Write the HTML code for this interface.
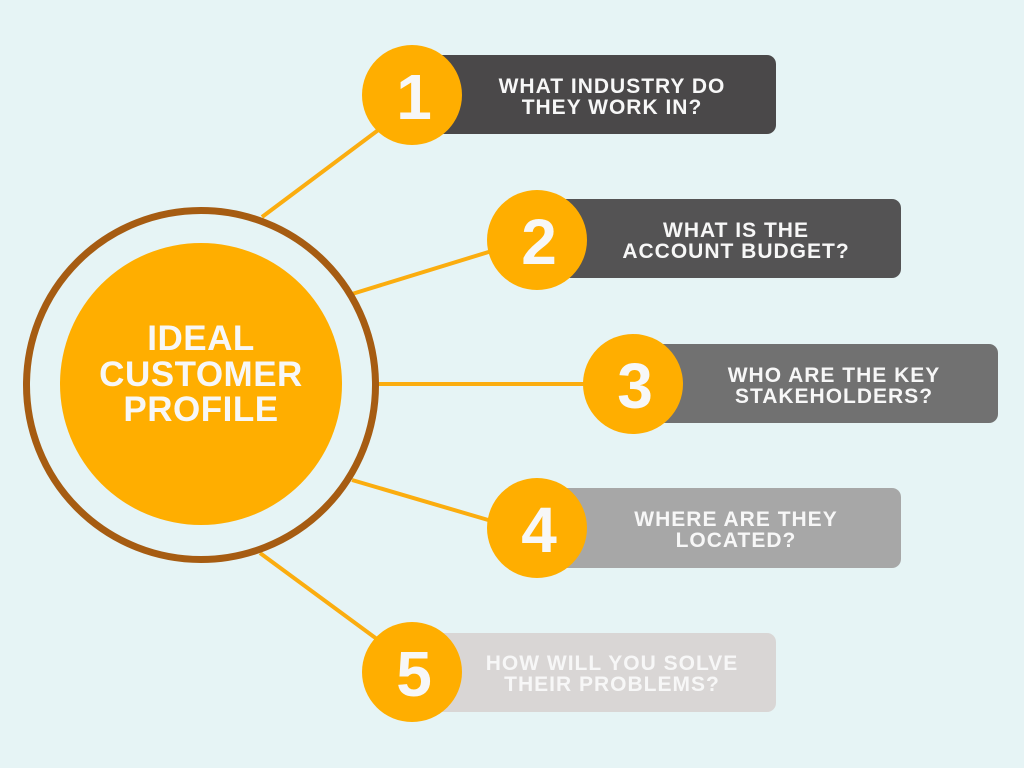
<!DOCTYPE html>
<html><head><meta charset="utf-8"><style>
html,body{margin:0;padding:0;background:#e6f4f5;}
svg{display:block}
text{font-family:"Liberation Sans",sans-serif;font-weight:bold;fill:#f7f7f7;text-anchor:middle}
</style></head><body>
<svg width="1024" height="768" viewBox="0 0 1024 768">
<rect width="1024" height="768" fill="#e6f4f5"/>
<g stroke="#fbad0f" stroke-width="4">
<line x1="262" y1="217" x2="385" y2="125"/>
<line x1="352" y1="294" x2="495" y2="250"/>
<line x1="378" y1="384" x2="590" y2="384"/>
<line x1="352" y1="480" x2="495" y2="522"/>
<line x1="260" y1="553" x2="385" y2="645"/>
</g>
<circle cx="201" cy="385" r="174.5" fill="none" stroke="#a65c12" stroke-width="7"/>
<circle cx="201" cy="384" r="141" fill="#ffae00"/>
<g font-size="35" letter-spacing="0.5">
<text x="201" y="350">IDEAL</text>
<text x="201" y="386">CUSTOMER</text>
<text x="201" y="421">PROFILE</text>
</g>

<rect x="420" y="55" width="356" height="79" rx="9" fill="#4a4849"/>
<rect x="545" y="199" width="356" height="79" rx="9" fill="#545354"/>
<rect x="640" y="344" width="358" height="79" rx="9" fill="#717171"/>
<rect x="545" y="488" width="356" height="80" rx="9" fill="#a7a7a7"/>
<rect x="420" y="633" width="356" height="79" rx="9" fill="#d9d6d5"/>

<g fill="#ffae00">
<circle cx="412" cy="95" r="50"/>
<circle cx="537" cy="240" r="50"/>
<circle cx="633" cy="384" r="50"/>
<circle cx="537" cy="528" r="50"/>
<circle cx="412" cy="672" r="50"/>
</g>
<g font-size="64">
<text x="414" y="119">1</text>
<text x="539" y="264">2</text>
<text x="635" y="408">3</text>
<text x="539" y="552">4</text>
<text x="414" y="696">5</text>
</g>
<g font-size="21" letter-spacing="1">
<text x="612" y="93">WHAT INDUSTRY DO</text>
<text x="612" y="114">THEY WORK IN?</text>
<text x="736" y="237">WHAT IS THE</text>
<text x="736" y="258">ACCOUNT BUDGET?</text>
<text x="834" y="382">WHO ARE THE KEY</text>
<text x="834" y="403">STAKEHOLDERS?</text>
<text x="736" y="526">WHERE ARE THEY</text>
<text x="736" y="547">LOCATED?</text>
<text x="612" y="670">HOW WILL YOU SOLVE</text>
<text x="612" y="691">THEIR PROBLEMS?</text>
</g>
</svg>
</body></html>
